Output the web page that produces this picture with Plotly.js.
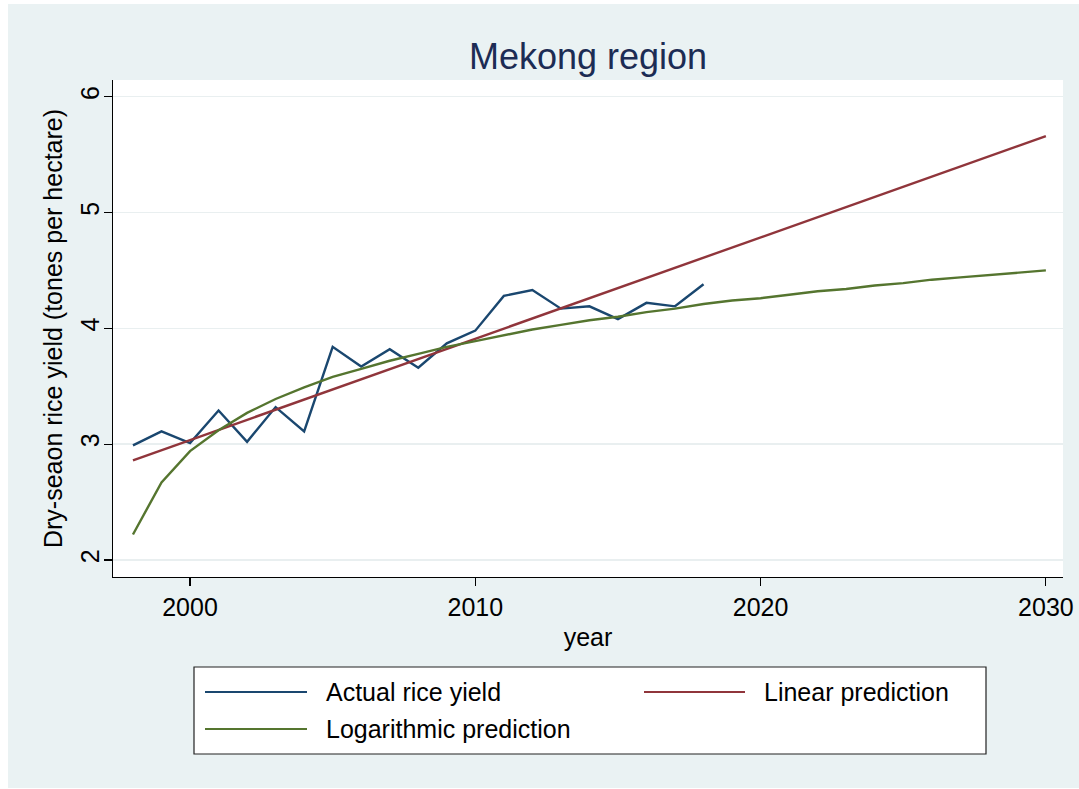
<!DOCTYPE html>
<html>
<head>
<meta charset="utf-8">
<script src="https://cdn.plot.ly/plotly-3.0.1.min.js"></script>
<style>
  html, body { margin: 0; padding: 0; background: #ffffff; }
  #plot { position: absolute; left: 8px; top: 4px; width: 1071px; height: 784px; }
</style>
</head>
<body>
<div id="plot"></div>
<script>
// ---- data ----
const actualYears = [1998,1999,2000,2001,2002,2003,2004,2005,2006,2007,2008,2009,2010,2011,2012,2013,2014,2015,2016,2017,2018];
const actualYield = [2.99,3.11,3.01,3.29,3.02,3.32,3.11,3.84,3.67,3.82,3.66,3.87,3.98,4.28,4.33,4.17,4.19,4.08,4.22,4.19,4.38];

const linearYears = [1998, 2030];
const linearYield = [2.86, 5.66];

const logYears = [1998,1999,2000,2001,2002,2003,2004,2005,2006,2007,2008,2009,2010,2011,2012,2013,2014,2015,2016,2017,2018,2019,2020,2021,2022,2023,2024,2025,2026,2027,2028,2029,2030];
const logYield = [2.22,2.67,2.94,3.12,3.27,3.39,3.49,3.58,3.65,3.72,3.78,3.84,3.89,3.94,3.99,4.03,4.07,4.10,4.14,4.17,4.21,4.24,4.26,4.29,4.32,4.34,4.37,4.39,4.42,4.44,4.46,4.48,4.50];

const seriesNames = ["Actual rice yield", "Linear prediction", "Logarithmic prediction"];
const seriesColors = ["#1a476f", "#90353b", "#55752f"];

const xTicks = [2000, 2010, 2020, 2030];
const yTicks = [2, 3, 4, 5, 6];

const titleText = "Mekong region";
const xTitle = "year";
const yTitle = "Dry-seaon rice yield (tones per hectare)";

// ---- geometry (page pixels -> paper coords) ----
const DIV_L = 8, DIV_T = 4, W = 1071, H = 784;
const M = { l: 105, r: 16, t: 76, b: 211 };
const PW = W - M.l - M.r, PH = H - M.t - M.b;
const px = x => (x - DIV_L - M.l) / PW;
const py = y => 1 - (y - DIV_T - M.t) / PH;

const FONT = "Liberation Sans, Arial, Helvetica, sans-serif";

const traces = [
  { x: actualYears, y: actualYield, name: seriesNames[0], type: "scatter", mode: "lines",
    line: { color: seriesColors[0], width: 2.4 } },
  { x: linearYears, y: linearYield, name: seriesNames[1], type: "scatter", mode: "lines",
    line: { color: seriesColors[1], width: 2.4 } },
  { x: logYears, y: logYield, name: seriesNames[2], type: "scatter", mode: "lines",
    line: { color: seriesColors[2], width: 2.4 } }
];

// custom legend (Stata style) built from the series names/colours
const legendBox = { x0: 194, x1: 986, y0: 667, y1: 754 };
const legendItems = [
  { i: 0, lx0: 205, lx1: 307, tx: 324, y: 692 },
  { i: 1, lx0: 644, lx1: 745, tx: 762, y: 692 },
  { i: 2, lx0: 205, lx1: 307, tx: 324, y: 729 }
];

const shapes = [
  { type: "rect", xref: "paper", yref: "paper",
    x0: px(legendBox.x0), x1: px(legendBox.x1), y0: py(legendBox.y1), y1: py(legendBox.y0),
    fillcolor: "#ffffff", line: { color: "#222222", width: 1.2 }, layer: "below" }
];
const annotations = [];
legendItems.forEach(it => {
  shapes.push({ type: "line", xref: "paper", yref: "paper",
    x0: px(it.lx0), x1: px(it.lx1), y0: py(it.y), y1: py(it.y),
    line: { color: seriesColors[it.i], width: 2.2 } });
  annotations.push({ xref: "paper", yref: "paper", x: px(it.tx), y: py(it.y),
    xanchor: "left", yanchor: "middle", showarrow: false, text: seriesNames[it.i],
    font: { family: FONT, size: 25, color: "#000000" } });
});

const layout = {
  width: W, height: H,
  margin: M,
  paper_bgcolor: "#eaf2f3",
  plot_bgcolor: "#ffffff",
  showlegend: false,
  title: { text: titleText, x: 0.5, xref: "paper", xanchor: "center",
           y: 1 - (56 - DIV_T) / H, yref: "container", yanchor: "middle",
           font: { family: FONT, size: 36, color: "#1c2c54" } },
  xaxis: {
    range: [1997.30, 2030.60],
    tickvals: xTicks, ticktext: xTicks.map(String),
    ticks: "outside", ticklen: 8, tickwidth: 1.2, tickcolor: "#000000",
    showline: true, linecolor: "#000000", linewidth: 1.3,
    showgrid: false, zeroline: false,
    tickfont: { family: FONT, size: 25, color: "#000000" },
    title: { text: xTitle, standoff: 8, font: { family: FONT, size: 25, color: "#000000" } }
  },
  yaxis: {
    range: [1.853, 6.144],
    tickvals: yTicks, ticktext: yTicks.map(String),
    tickangle: -90,
    ticklabelstandoff: -5,
    ticks: "outside", ticklen: 8, tickwidth: 1.2, tickcolor: "#000000",
    showline: true, linecolor: "#000000", linewidth: 1.3,
    showgrid: true, gridcolor: "#e9eff0", gridwidth: 1.5, zeroline: false,
    tickfont: { family: FONT, size: 25, color: "#000000" },
    title: { text: yTitle, standoff: 6, font: { family: FONT, size: 25, color: "#000000" } }
  },
  shapes: shapes,
  annotations: annotations
};

Plotly.newPlot("plot", traces, layout, { displayModeBar: false, staticPlot: true });
</script>
</body>
</html>
